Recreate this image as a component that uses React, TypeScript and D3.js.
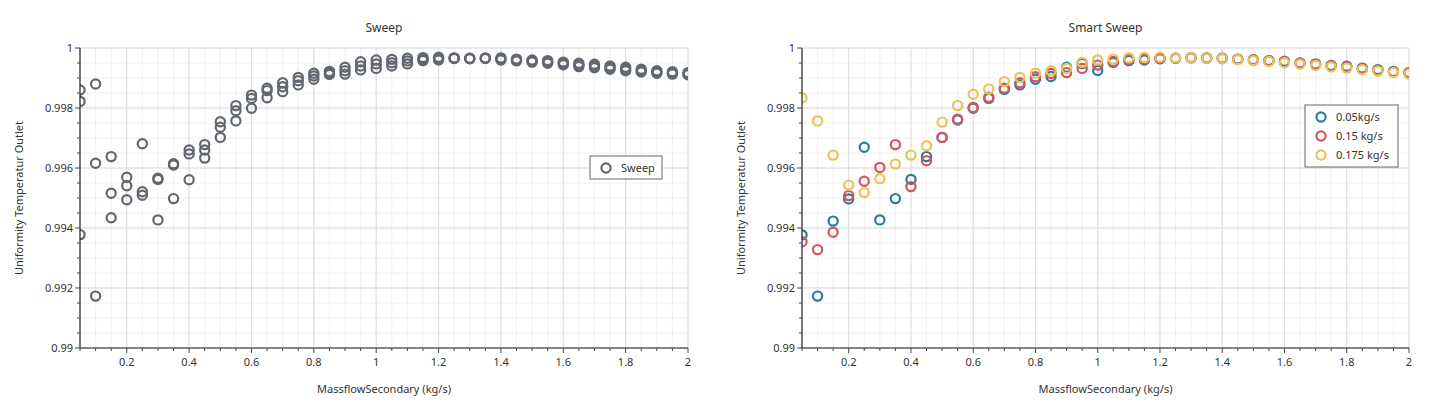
import React from "react";
import * as d3 from "d3";

const xValues = [0.05,0.1,0.15,0.2,0.25,0.3,0.35,0.4,0.45,0.5,0.55,0.6,0.65,0.7,0.75,0.8,0.85,0.9,0.95,1.0,1.05,1.1,1.15,1.2,1.25,1.3,1.35,1.4,1.45,1.5,1.55,1.6,1.65,1.7,1.75,1.8,1.85,1.9,1.95,2.0];

// Left chart "Sweep": three runs per massflow value
const sweepRunA = [0.9986,0.9988,0.99638,0.99569,0.99681,0.99566,0.99614,0.9966,0.99678,0.99754,0.99808,0.99843,0.99866,0.99884,0.99902,0.99916,0.99922,0.99936,0.99954,0.9996,0.99962,0.99966,0.99968,0.99969,0.99967,0.99966,0.99967,0.99967,0.99963,0.9996,0.99958,0.99953,0.99949,0.99946,0.9994,0.99936,0.99929,0.99924,0.99921,0.99918];
const sweepRunB = [0.99822,0.99616,0.99516,0.99541,0.99521,0.99562,0.9961,0.99647,0.9966,0.99736,0.99791,0.99832,0.99858,0.99871,0.99891,0.99907,0.99917,0.99924,0.9994,0.99947,0.99951,0.99957,0.99962,0.99964,0.99966,0.99965,0.99966,0.99963,0.9996,0.99956,0.99953,0.99949,0.99943,0.9994,0.99935,0.9993,0.99925,0.9992,0.99917,0.99914];
const sweepRunC = [0.99378,0.99173,0.99434,0.99494,0.99509,0.99427,0.99498,0.99561,0.99633,0.99702,0.99757,0.99799,0.99834,0.99854,0.99877,0.99896,0.99912,0.99913,0.99927,0.99932,0.9994,0.99947,0.99958,0.9996,0.99965,0.99964,0.99965,0.9996,0.99957,0.99953,0.99949,0.99944,0.99938,0.99934,0.99929,0.99924,0.9992,0.99916,0.99913,0.99911];

// Right chart "Smart Sweep"
const seriesNames = ["0.05kg/s", "0.15 kg/s", "0.175 kg/s"];
const smart005 = [0.99377,0.99173,0.99423,0.99497,0.99669,0.99427,0.99498,0.99562,0.99638,0.99702,0.9976,0.99799,0.99832,0.99862,0.99877,0.99896,0.99905,0.99936,0.99948,0.99925,0.99952,0.99958,0.9996,0.99964,0.99966,0.99968,0.99967,0.99966,0.99963,0.99961,0.99958,0.99956,0.9995,0.99947,0.99942,0.99939,0.99933,0.99928,0.99922,0.99918];
const smart015 = [0.99354,0.99328,0.99386,0.99508,0.99556,0.99602,0.99678,0.99538,0.99624,0.99702,0.99763,0.99802,0.99836,0.99866,0.99884,0.99904,0.99915,0.99918,0.99932,0.99943,0.99955,0.99962,0.99964,0.99966,0.99966,0.99967,0.99966,0.99965,0.99962,0.9996,0.99957,0.99954,0.99949,0.99945,0.9994,0.99936,0.9993,0.99926,0.9992,0.99916];
const smart0175 = [0.99834,0.99757,0.99643,0.99543,0.99518,0.99564,0.99613,0.99643,0.99674,0.99753,0.99808,0.99846,0.99863,0.99888,0.99902,0.99916,0.99924,0.99932,0.99952,0.9996,0.99963,0.99967,0.99968,0.99969,0.99967,0.99968,0.99966,0.99964,0.99961,0.99958,0.99955,0.99951,0.99946,0.99942,0.99937,0.99933,0.99928,0.99923,0.99918,0.99913];
const seriesColors = ["#2b7d98", "#d4555f", "#e8c458"];

const xTickLabels = [0.2,0.4,0.6,0.8,1,1.2,1.4,1.6,1.8,2];
const yTickLabels = [0.99,0.992,0.994,0.996,0.998,1];

const FONT = "'Noto Sans', 'Open Sans', sans-serif";
const sweepColor = "#62676f";

type Panel = { x0: number; x1: number; y0: number; y1: number; title: string; id: string };

function Chart({ p, series, legend }: { p: Panel; series: { values: number[]; color: string }[]; legend: { x: number; y: number; w: number; h: number; items: { name: string; color: string }[] } }) {
  const x = d3.scaleLinear().domain([0.05, 2]).range([p.x0, p.x1]);
  const y = d3.scaleLinear().domain([0.99, 1]).range([p.y1, p.y0]);
  const xMinor = d3.range(0.05, 2.0001, 0.05).map((v) => +v.toFixed(2));
  const yMinor = d3.range(0.99, 1.00001, 0.0005).map((v) => +v.toFixed(4));
  const cx = (p.x0 + p.x1) / 2;
  const cy = (p.y0 + p.y1) / 2;
  return (
    <g>
      <defs>
        <clipPath id={"clip-" + p.id}>
          <rect x={p.x0} y={p.y0 - 1} width={p.x1 - p.x0} height={p.y1 - p.y0 + 1} />
        </clipPath>
      </defs>
      <text x={cx} y={32} textAnchor="middle" fontSize={12} fill="#333" fontFamily={FONT}>{p.title}</text>
      {xMinor.map((v, i) => (
        <line key={"xm" + i} x1={x(v)} x2={x(v)} y1={p.y0} y2={p.y1} stroke="#f0f0f0" strokeWidth={1} />
      ))}
      {yMinor.map((v, i) => (
        <line key={"ym" + i} x1={p.x0} x2={p.x1} y1={y(v)} y2={y(v)} stroke="#f0f0f0" strokeWidth={1} />
      ))}
      {xTickLabels.map((v, i) => (
        <line key={"xg" + i} x1={x(v)} x2={x(v)} y1={p.y0} y2={p.y1} stroke="#dddddd" strokeWidth={1} />
      ))}
      {yTickLabels.map((v, i) => (
        <line key={"yg" + i} x1={p.x0} x2={p.x1} y1={y(v)} y2={y(v)} stroke="#dddddd" strokeWidth={1} />
      ))}
      <g clipPath={`url(#clip-${p.id})`}>
        {series.map((s, si) =>
          s.values.map((v, i) => (
            <circle key={si + "-" + i} cx={x(xValues[i])} cy={y(v)} r={4.6} fill="none" stroke={s.color} strokeWidth={2.2} />
          ))
        )}
      </g>
      <line x1={p.x0} x2={p.x0} y1={p.y0} y2={p.y1} stroke="#222" strokeWidth={1.2} />
      <line x1={p.x0} x2={p.x1} y1={p.y1} y2={p.y1} stroke="#222" strokeWidth={1.2} />
      {yMinor.map((v, i) => {
        const major = yTickLabels.some((t) => Math.abs(t - v) < 1e-7);
        return <line key={"yt" + i} x1={p.x0 - (major ? 5 : 3)} x2={p.x0} y1={y(v)} y2={y(v)} stroke="#444" strokeWidth={1} />;
      })}
      {xMinor.map((v, i) => {
        const major = xTickLabels.some((t) => Math.abs(t - v) < 1e-7);
        return <line key={"xt" + i} x1={x(v)} x2={x(v)} y1={p.y1} y2={p.y1 + (major ? 5 : 3)} stroke="#444" strokeWidth={1} />;
      })}
      {yTickLabels.map((v, i) => (
        <text key={"yl" + i} x={p.x0 - 7} y={y(v) + 4} textAnchor="end" fontSize={11} fill="#333" fontFamily={FONT}>{String(v)}</text>
      ))}
      {xTickLabels.map((v, i) => (
        <text key={"xl" + i} x={x(v)} y={p.y1 + 18} textAnchor="middle" fontSize={11} fill="#333" fontFamily={FONT}>{String(v)}</text>
      ))}
      <text x={cx} y={393} textAnchor="middle" fontSize={11} fill="#333" fontFamily={FONT}>MassflowSecondary (kg/s)</text>
      <text transform={`translate(${p.x0 - 57},${cy}) rotate(-90)`} textAnchor="middle" fontSize={11} fill="#333" fontFamily={FONT}>Uniformity Temperatur Outlet</text>
      <rect x={legend.x} y={legend.y} width={legend.w} height={legend.h} fill="#fff" stroke="#666" strokeWidth={1} />
      {legend.items.map((it, i) => (
        <g key={"lg" + i}>
          <circle cx={legend.x + 16} cy={legend.y + 12 + i * 19} r={4.6} fill="none" stroke={it.color} strokeWidth={2.2} />
          <text x={legend.x + 31} y={legend.y + 16 + i * 19} fontSize={11} fill="#333" fontFamily={FONT}>{it.name}</text>
        </g>
      ))}
    </g>
  );
}

export default function App() {
  const left: Panel = { x0: 80, x1: 688, y0: 48, y1: 348, title: "Sweep", id: "l" };
  const right: Panel = { x0: 802, x1: 1409, y0: 48, y1: 348, title: "Smart Sweep", id: "r" };
  const smartValues = [smart005, smart015, smart0175];
  return (
    <svg width={1444} height={408} style={{ position: "absolute", left: 0, top: 0, background: "#fff" }}>
      <rect x={0} y={0} width={1444} height={408} fill="#fff" />
      <Chart
        p={left}
        series={[sweepRunA, sweepRunB, sweepRunC].map((v) => ({ values: v, color: sweepColor }))}
        legend={{ x: 590, y: 156, w: 72, h: 23, items: [{ name: "Sweep", color: sweepColor }] }}
      />
      <Chart
        p={right}
        series={smartValues.map((v, i) => ({ values: v, color: seriesColors[i] }))}
        legend={{ x: 1305, y: 105, w: 93, h: 62, items: seriesNames.map((n, i) => ({ name: n, color: seriesColors[i] })) }}
      />
    </svg>
  );
}
